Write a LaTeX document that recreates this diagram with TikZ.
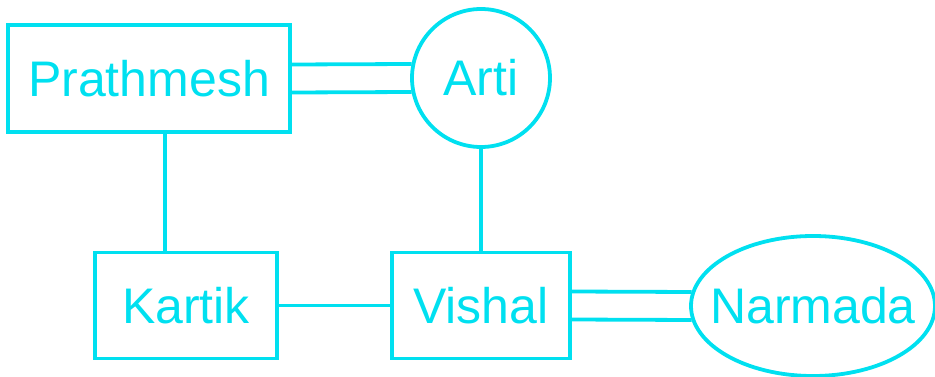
\documentclass[tikz,border=0pt]{standalone}
\usepackage{fontspec}
\setmainfont{Liberation Sans}
\usetikzlibrary{shapes.geometric}
\definecolor{cy}{RGB}{0,224,240}
\begin{document}
\begin{tikzpicture}[x=1pt,y=-1pt,
  every node/.style={inner sep=0pt, draw=cy, line width=3.8pt, text=cy, font=\fontsize{50}{60}\selectfont},
  boxnode/.style={rectangle},
  link/.style={draw=cy, line width=3.8pt}]
\useasboundingbox (0,0) rectangle (935,377);
\node[boxnode, minimum width=282pt, minimum height=107pt] (P) at (149,78.5) {Prathmesh};
\node[circle, minimum size=138pt] (A) at (481,78) {Arti};
\node[boxnode, minimum width=182pt, minimum height=106pt] (K) at (186,305.5) {Kartik};
\node[boxnode, minimum width=178pt, minimum height=106pt] (V) at (481,305.5) {Vishal};
\node[ellipse, inner xsep=-30pt, inner ysep=-10pt, minimum width=244pt, minimum height=140pt] (N) at (813,306) {Narmada};
\draw[link] ([yshift=14pt]P.east) -- ([yshift=14pt,xshift=1.5pt]A.west);
\draw[link] ([yshift=-14pt]P.east) -- ([yshift=-14pt,xshift=1.5pt]A.west);
\draw[link] ([xshift=-21pt]K.north) -- ([xshift=-21pt]K.north |- P.south);
\draw[link] (A.south) -- (V.north);
\draw[link] (K.east) -- (V.west);
\draw[link] ([yshift=14pt]V.east) -- ([yshift=14pt,xshift=2.5pt]N.west);
\draw[link] ([yshift=-14pt]V.east) -- ([yshift=-14pt,xshift=2.5pt]N.west);
\end{tikzpicture}
\end{document}
